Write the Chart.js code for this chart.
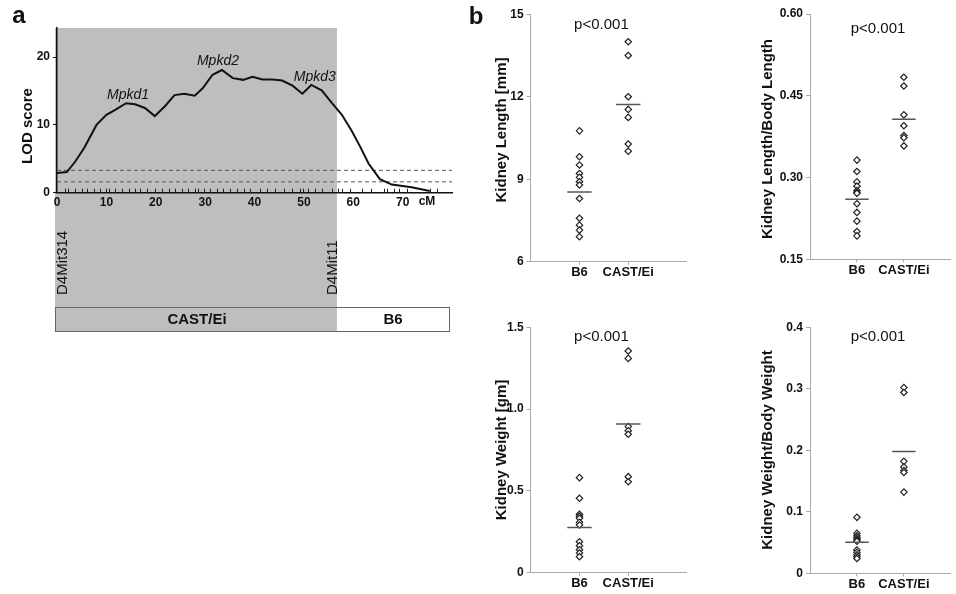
<!DOCTYPE html>
<html>
<head>
<meta charset="utf-8">
<script src="https://cdn.jsdelivr.net/npm/chart.js@4.4.1/dist/chart.umd.min.js"></script>
<style>
  body { margin: 0; background: #fff; width: 956px; height: 594px; position: relative; overflow: hidden; }
  canvas { position: absolute; }
</style>
</head>
<body>
<canvas id="lod" width="460" height="340" style="left:0;top:0"></canvas>
<canvas id="klen" width="232" height="290" style="left:460px;top:0"></canvas>
<canvas id="krel" width="256" height="290" style="left:700px;top:0"></canvas>
<canvas id="kw" width="232" height="304" style="left:460px;top:290px"></canvas>
<canvas id="kwr" width="256" height="304" style="left:700px;top:290px"></canvas>
<script>
// panel a: LOD curve along chromosome 4
const lodCM = [0, 2, 3.7, 5.5, 8, 10, 11.7, 14, 15.8, 17.8, 19.8, 21.9, 23.8, 25.8, 27.9, 29.5, 31.5, 33.4, 35.6, 37.7,
  39.6, 41.6, 43.6, 45.6, 47.7, 49.7, 51.5, 53.6, 55.7, 57.7, 59.7, 61.4, 63.1, 65.4, 67.8, 71.8, 75.5];
const lodScore = [2.9, 3.05, 4.6, 6.6, 10, 11.5, 12.2, 13.2, 13.05, 12.5, 11.3, 12.8, 14.4, 14.6, 14.3, 15.4, 17.4, 18.1, 16.9, 16.65,
  17.1, 16.7, 16.7, 16.55, 15.8, 14.6, 15.9, 15.1, 13.2, 11.5, 9.1, 6.8, 4.3, 2.0, 1.2, 0.8, 0.25];
const thresholds = [3.3, 1.6];
const markerCM = [1.6, 2.3, 3.6, 5.0, 6.0, 7.4, 8.7, 9.9, 10.6, 11.8, 13.1, 14.5, 15.8, 16.8, 18.2, 19.9, 21.2, 22.6, 23.9, 25.3,
  26.6, 28.0, 28.6, 29.7, 31.0, 32.4, 33.7, 35.1, 36.4, 37.8, 39.1, 41.2, 42.5, 44.2, 45.9, 47.6, 49.3, 49.9, 50.9, 52.3,
  53.6, 55.7, 57.0, 57.7, 59.4, 61.8, 63.5, 66.2, 66.9, 68.2, 69.2, 70.9, 75.6, 76.9];
const geneNames = ['Mpkd1', 'Mpkd2', 'Mpkd3'];
const geneCM = [14.4, 32.6, 52.2];
const geneLOD = [14.4, 19.45, 17.1];
const castEnd = 56.7;
const lodTicks = [0, 10, 20, 30, 40, 50, 60, 70];

// panel b: dot plots
const groups = ['B6', 'CAST/Ei'];
const klenB6 = [10.76, 9.82, 9.52, 9.21, 9.07, 8.91, 8.79, 8.30, 7.58, 7.33, 7.15, 6.91];
const klenCast = [14.0, 13.5, 12.0, 11.54, 11.25, 10.28, 10.02];
const klenMean = [8.54, 11.72];
const krelB6 = [0.332, 0.311, 0.292, 0.284, 0.276, 0.273, 0.271, 0.252, 0.236, 0.220, 0.201, 0.193];
const krelCast = [0.484, 0.468, 0.415, 0.395, 0.377, 0.373, 0.358];
const krelMean = [0.260, 0.407];
const kwB6 = [0.581, 0.455, 0.357, 0.345, 0.333, 0.308, 0.292, 0.189, 0.165, 0.140, 0.120, 0.098];
const kwCast = [1.355, 1.31, 0.893, 0.868, 0.846, 0.587, 0.556];
const kwMean = [0.277, 0.909];
const kwrB6 = [0.091, 0.065, 0.061, 0.058, 0.056, 0.054, 0.052, 0.038, 0.034, 0.030, 0.027, 0.024];
const kwrCast = [0.302, 0.294, 0.182, 0.173, 0.167, 0.164, 0.132];
const kwrMean = [0.0504, 0.198];

const FONT = "'Liberation Sans', Arial, sans-serif";
Chart.defaults.font.family = FONT;
Chart.defaults.color = '#111';

function vTitle(ctx, text, cx, cy) {
  ctx.save();
  ctx.translate(cx, cy);
  ctx.rotate(-Math.PI / 2);
  ctx.font = 'bold 15px ' + FONT;
  ctx.textAlign = 'center';
  ctx.textBaseline = 'middle';
  ctx.fillStyle = '#111';
  ctx.fillText(text, 0, 0);
  ctx.restore();
}

// gray CAST/Ei region, strain bar, labels
const lodDecor = {
  id: 'lodDecor',
  beforeDraw(c) {
    const { ctx, chartArea: a, scales: { x } } = c;
    const x0 = x.getPixelForValue(0) - 2;
    const x1 = x.getPixelForValue(castEnd);
    const xr = x.getPixelForValue(79.4);
    ctx.save();
    ctx.fillStyle = '#bebebe';
    ctx.fillRect(x0, a.top, x1 - x0, 332 - a.top);
    ctx.fillStyle = '#fff';
    ctx.fillRect(x1, 307, xr - x1, 25);
    ctx.strokeStyle = '#666';
    ctx.lineWidth = 1;
    ctx.strokeRect(x0 + 0.5, 307.5, xr - x0, 24);
    ctx.restore();
  },
  afterDraw(c) {
    const { ctx, chartArea: a, scales: { x, y } } = c;
    ctx.save();
    // marker ticks
    ctx.strokeStyle = '#222';
    ctx.lineWidth = 1;
    markerCM.forEach(m => {
      const px = Math.round(x.getPixelForValue(m)) + 0.5;
      ctx.beginPath();
      ctx.moveTo(px, a.bottom);
      ctx.lineTo(px, a.bottom - 4);
      ctx.stroke();
    });
    ctx.fillStyle = '#111';
    ctx.font = 'italic 14px ' + FONT;
    ctx.textAlign = 'center';
    ctx.textBaseline = 'middle';
    geneNames.forEach((g, i) => ctx.fillText(g, x.getPixelForValue(geneCM[i]), y.getPixelForValue(geneLOD[i])));
    ctx.font = 'bold 12px ' + FONT;
    ctx.fillText('cM', 427, 202);
    ctx.font = 'bold 24px ' + FONT;
    ctx.textBaseline = 'alphabetic';
    ctx.fillText('a', 19, 23);
    ctx.font = 'bold 15px ' + FONT;
    ctx.textBaseline = 'middle';
    ctx.fillText('CAST/Ei', (x.getPixelForValue(0) + x.getPixelForValue(castEnd)) / 2, 320);
    ctx.fillText('B6', (x.getPixelForValue(castEnd) + x.getPixelForValue(79.4)) / 2, 320);
    ctx.font = '15px ' + FONT;
    ctx.textAlign = 'left';
    [['D4Mit314', 1.2], ['D4Mit11', 55.9]].forEach(([t, cm]) => {
      ctx.save();
      ctx.translate(x.getPixelForValue(cm), 295);
      ctx.rotate(-Math.PI / 2);
      ctx.fillText(t, 0, 0);
      ctx.restore();
    });
    ctx.restore();
    vTitle(ctx, 'LOD score', 28, 126);
  }
};

new Chart(document.getElementById('lod'), {
  type: 'scatter',
  data: {
    datasets: [
      {
        data: lodCM.map((v, i) => ({ x: v, y: lodScore[i] })),
        showLine: true, borderColor: '#111', borderWidth: 2, pointRadius: 0, tension: 0
      },
      ...thresholds.map(t => ({
        data: [{ x: 0, y: t }, { x: 80, y: t }],
        showLine: true, borderColor: '#555', borderWidth: 1, borderDash: [4, 3], pointRadius: 0
      }))
    ]
  },
  options: {
    responsive: false,
    animation: false,
    layout: { padding: { top: 28, right: 8, left: 0, bottom: 0 } },
    plugins: { legend: { display: false }, tooltip: { enabled: false } },
    scales: {
      x: {
        type: 'linear', min: 0, max: 80,
        afterBuildTicks: s => { s.ticks = lodTicks.map(v => ({ value: v })); },
        afterFit: s => { s.height = 147.3; },
        grid: { drawOnChartArea: false, drawTicks: false },
        border: { color: '#111', width: 1.5 },
        ticks: { font: { size: 12, weight: 'bold' }, padding: 3, maxRotation: 0, color: '#111' }
      },
      y: {
        min: 0, max: 24.3,
        afterBuildTicks: s => { s.ticks = [0, 10, 20].map(v => ({ value: v })); },
        afterFit: s => { s.width = 57; },
        grid: { drawOnChartArea: false, tickLength: 4, color: '#111' },
        border: { color: '#111', width: 1.5 },
        ticks: { font: { size: 12, weight: 'bold' }, padding: 3, color: '#111' }
      }
    }
  },
  plugins: [lodDecor]
});

function dotPlot(id, b6, cast, mean, o) {
  const pPlugin = {
    id: 'pval',
    afterDraw(c) {
      const { ctx, chartArea: a, scales: { x } } = c;
      ctx.save();
      ctx.fillStyle = '#111';
      ctx.font = '15px ' + FONT;
      ctx.textAlign = 'center';
      ctx.textBaseline = 'middle';
      ctx.fillText('p<0.001', x.getPixelForValue(1.45), a.top + o.pOff);
      if (o.letter) {
        ctx.font = 'bold 24px ' + FONT;
        ctx.textBaseline = 'alphabetic';
        ctx.fillText(o.letter, 16, 24);
      }
      ctx.restore();
      vTitle(ctx, o.title, o.titleX, o.titleY);
    }
  };
  const pts = (vals, g) => ({
    data: vals.map(v => ({ x: g, y: v })),
    pointStyle: 'rectRot', pointRadius: 3.2, borderColor: '#222', backgroundColor: '#fff', borderWidth: 1.2
  });
  const meanLine = (m, g) => ({
    data: [{ x: g - 0.25, y: m }, { x: g + 0.25, y: m }],
    showLine: true, borderColor: '#555', borderWidth: 1.5, pointRadius: 0
  });
  new Chart(document.getElementById(id), {
    type: 'scatter',
    data: { datasets: [meanLine(mean[0], 1), meanLine(mean[1], 2), pts(b6, 1), pts(cast, 2)] },
    options: {
      responsive: false,
      animation: false,
      layout: { padding: { top: o.padTop, right: o.padRight, left: 0, bottom: 0 } },
      plugins: { legend: { display: false }, tooltip: { enabled: false } },
      scales: {
        x: {
          type: 'linear', min: 0, max: o.xMax,
          afterBuildTicks: s => { s.ticks = [{ value: 1 }, { value: 2 }]; },
          afterFit: s => { s.height = o.xH; },
          grid: { drawOnChartArea: false, tickLength: 3, color: '#aaa' },
          border: { color: '#aaa', width: 1 },
          ticks: { callback: v => groups[v - 1], font: { size: 13, weight: 'bold' }, padding: 0, maxRotation: 0, color: '#111' }
        },
        y: {
          min: o.min, max: o.max,
          ticks: { stepSize: o.step, callback: o.fmt, font: { size: 12, weight: 'bold' }, padding: 3, color: '#111' },
          afterFit: s => { s.width = o.axisW; },
          grid: { drawOnChartArea: false, tickLength: 4, color: '#aaa' },
          border: { color: '#aaa', width: 1 }
        }
      }
    },
    plugins: [pPlugin]
  });
}

dotPlot('klen', klenB6, klenCast, klenMean, {
  min: 6, max: 15, step: 3, fmt: v => String(v), title: 'Kidney Length [mm]',
  axisW: 70.7, padTop: 14.3, padRight: 1.3, xH: 28.3, xMax: 3.2, titleX: 41.7, titleY: 130, pOff: 10.7, letter: 'b'
});
dotPlot('krel', krelB6, krelCast, krelMean, {
  min: 0.15, max: 0.60, step: 0.15, fmt: v => v.toFixed(2), title: 'Kidney Length/Body Length',
  axisW: 110, padTop: 14, padRight: 1, xH: 30.7, xMax: 3.0, titleX: 68, titleY: 139, pOff: 15
});
dotPlot('kw', kwB6, kwCast, kwMean, {
  min: 0, max: 1.5, step: 0.5, fmt: v => v === 0 ? '0' : v.toFixed(1), title: 'Kidney Weight [gm]',
  axisW: 70.7, padTop: 37.3, padRight: 1.3, xH: 21.3, xMax: 3.2, titleX: 41.7, titleY: 160, pOff: 9.4
});
dotPlot('kwr', kwrB6, kwrCast, kwrMean, {
  min: 0, max: 0.4, step: 0.1, fmt: v => v === 0 ? '0' : v.toFixed(1), title: 'Kidney Weight/Body Weight',
  axisW: 110, padTop: 37.3, padRight: 1, xH: 20.7, xMax: 3.0, titleX: 68, titleY: 160, pOff: 10
});
</script>
</body>
</html>
